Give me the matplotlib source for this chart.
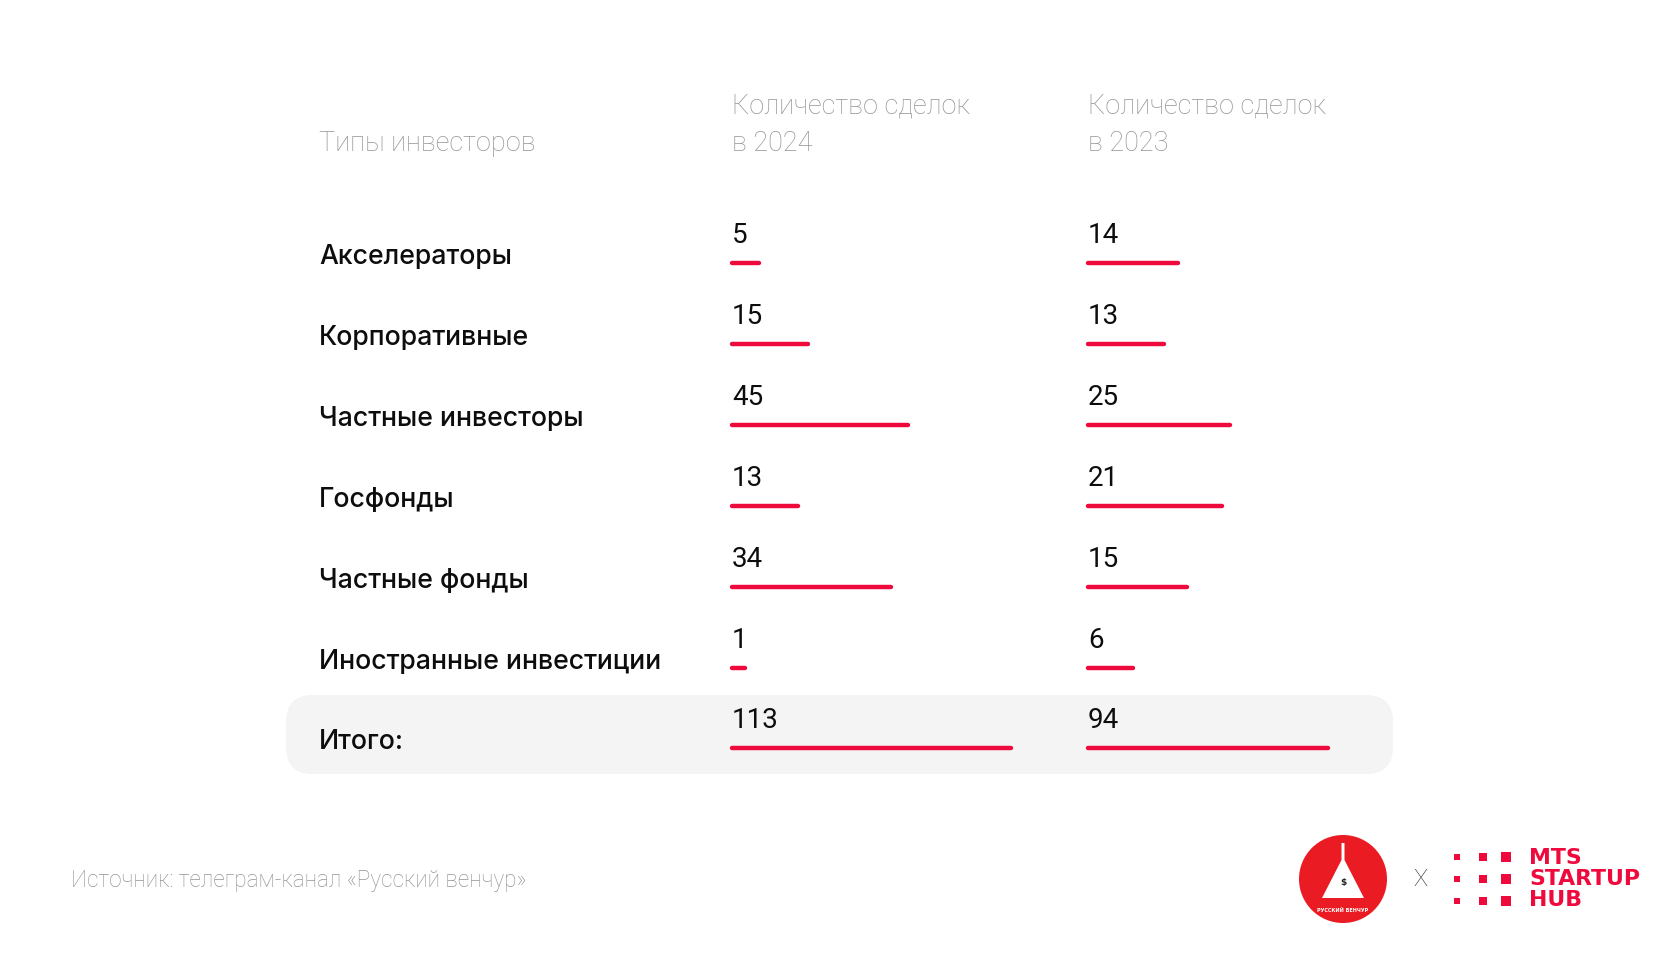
import matplotlib.pyplot as plt
from matplotlib.patches import FancyBboxPatch, Circle, Polygon, Rectangle

# table data
header_types = 'Типы инвесторов'
header_2024 = 'Количество сделок\nв 2024'
header_2023 = 'Количество сделок\nв 2023'
investor_types = ['Акселераторы', 'Корпоративные', 'Частные инвесторы', 'Госфонды',
                  'Частные фонды', 'Иностранные инвестиции', 'Итого:']
deals_2024 = [5, 15, 45, 13, 34, 1, 113]
deals_2023 = [14, 13, 25, 21, 15, 6, 94]
# the red bars in the source are not drawn to scale, so their lengths are read off the picture
bar_2024 = [31, 80, 180, 70, 163, 17, 283]
bar_2023 = [94, 80, 146, 138, 103, 49, 244]
source = 'Источник: телеграм-канал «Русский венчур»'

RED = '#ef0a3d'
GREY = '#949494'

fig = plt.figure(figsize=(16.8, 9.6), dpi=100)
ax = fig.add_axes([0, 0, 1, 1])
ax.set_xlim(0, 1680)
ax.set_ylim(960, 0)
ax.axis('off')

label_x = 319
col_x = [730, 1086]      # bar start of each column
row0 = 263
step = 80.9

# total row background
ax.add_patch(FancyBboxPatch((286 + 27, 695 + 27), 1393 - 286 - 54, 774 - 695 - 54,
                            boxstyle='round,pad=27', fc='#f4f4f4', ec='none', zorder=0))

# headers
ax.text(label_x, 151, header_types, fontsize=19.5, color=GREY, family='Roboto',
        fontweight='light', va='baseline')
for x, h in zip(col_x, [header_2024, header_2023]):
    ax.text(x + 2, 151, h, fontsize=19.5, color=GREY, family='Roboto',
            fontweight='light', va='baseline', linespacing=1.5)

for i, name in enumerate(investor_types):
    y = row0 + i * step
    ax.text(label_x, y + 1, name, fontsize=19.2, color='#0d0d0d', family='Inter',
            fontweight='medium', va='baseline')
    for x, vals, lens in zip(col_x, [deals_2024, deals_2023], [bar_2024, bar_2023]):
        ax.text(x + 2, y - 20, str(vals[i]), fontsize=20, color='#0d0d0d',
                family='Roboto', fontweight='normal', va='baseline')
        ax.plot([x + 2, x + lens[i] - 2], [y, y], color=RED, lw=3.2,
                solid_capstyle='round')

# source note
ax.text(71, 881, source, fontsize=16.3, color=GREY, family='Roboto', fontweight='light',
        va='center')

# logo: Russian Venture circle
ax.add_patch(Circle((1343, 879), 44, fc='#ea1b23', ec='none'))
ax.add_patch(Polygon([(1341.5, 843), (1344.5, 843), (1344.5, 860), (1364, 898),
                      (1322, 898), (1341.5, 860)], closed=True, fc='white', ec='none'))
ax.text(1343, 883, '$', fontsize=6.5, color='#222222', ha='center', va='center',
        fontweight='bold')
ax.text(1343, 910, 'РУССКИЙ ВЕНЧУР', fontsize=3.5, color='white', ha='center',
        va='center', fontweight='bold')

ax.text(1420, 880, 'X', fontsize=17, color='#333333', family='Roboto', fontweight='light',
        ha='center', va='center')

# logo: MTS Startup Hub
for cx, s in zip([1457, 1483, 1506], [5.5, 7.5, 10.5]):
    for cy in [857, 879, 901]:
        ax.add_patch(Rectangle((cx - s / 2, cy - s / 2), s, s, fc=RED, ec='none'))
for cy, word in zip([858, 879, 900], ['MTS', 'STARTUP', 'HUB']):
    ax.text(1529, cy, word, fontsize=15.8, color=RED, family='DejaVu Sans',
            fontweight='bold', va='center')

fig.savefig('out.png', dpi=100, facecolor='white')
